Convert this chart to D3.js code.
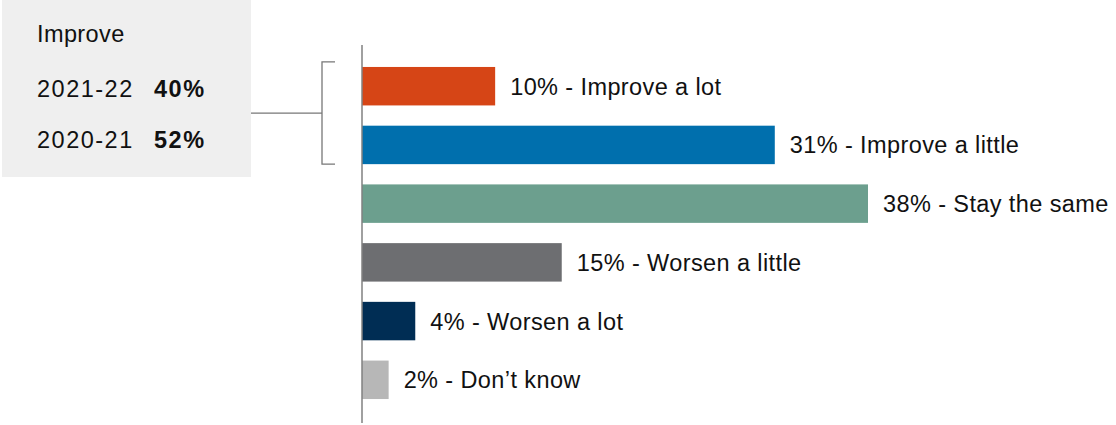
<!DOCTYPE html>
<html>
<head>
<meta charset="utf-8">
<script src="https://cdn.jsdelivr.net/npm/d3@7"></script>
<style>
  html, body { margin: 0; padding: 0; background: #fff; }
  svg { display: block; font-family: "Liberation Sans", Arial, sans-serif; }
</style>
</head>
<body>
<svg id="chart" width="1116" height="425"></svg>
<script>
// Survey responses: expected change
const categories = ["Improve a lot", "Improve a little", "Stay the same", "Worsen a little", "Worsen a lot", "Don\u2019t know"];
const values = [10, 31, 38, 15, 4, 2];
const colors = ["#d64516", "#006fad", "#6c9f8e", "#6d6e71", "#002d54", "#b7b7b7"];

// Summary panel: share expecting improvement
const summaryTitle = "Improve";
const summaryYears = ["2021-22", "2020-21"];
const summaryValues = [40, 52];

const svg = d3.select("#chart");
const fs = 23.5;

const x0 = 362;
const x = d3.scaleLinear().domain([0, 38]).range([x0, 868]);
const y = d3.scaleBand().domain(categories).range([47, 419]).paddingInner(0.345).paddingOuter(0.34);

// bars
svg.selectAll("rect.bar").data(categories).join("rect")
  .attr("class", "bar")
  .attr("x", x0)
  .attr("y", d => y(d))
  .attr("width", (d, i) => x(values[i]) - x0)
  .attr("height", y.bandwidth())
  .attr("fill", (d, i) => colors[i]);

// value labels
svg.selectAll("text.lbl").data(categories).join("text")
  .attr("class", "lbl")
  .attr("x", (d, i) => x(values[i]) + 15)
  .attr("y", d => y(d) + y.bandwidth() / 2)
  .attr("dy", "0.36em")
  .attr("font-size", fs)
  .attr("letter-spacing", 0.4)
  .attr("fill", "#111")
  .text((d, i) => `${values[i]}% - ${d}`);

// vertical axis line
svg.append("line")
  .attr("x1", x0).attr("x2", x0)
  .attr("y1", 45).attr("y2", 423)
  .attr("stroke", "#808080").attr("stroke-width", 1.5);

// summary panel
svg.append("rect")
  .attr("x", 2).attr("y", 0).attr("width", 249).attr("height", 177)
  .attr("fill", "#efefef");

svg.append("text")
  .attr("x", 37).attr("y", 42)
  .attr("font-size", fs).attr("fill", "#111")
  .attr("letter-spacing", 0.4)
  .text(summaryTitle);

summaryYears.forEach((yr, i) => {
  const by = 96.5 + i * 51.5;
  svg.append("text")
    .attr("x", 37).attr("y", by)
    .attr("font-size", fs).attr("fill", "#111")
    .attr("letter-spacing", 1.5)
    .text(yr);
  svg.append("text")
    .attr("x", 154).attr("y", by)
    .attr("font-size", fs).attr("font-weight", "bold").attr("fill", "#111")
    .attr("letter-spacing", 1.5)
    .text(summaryValues[i] + "%");
});

// bracket grouping the two "improve" bars
const bTop = y(categories[0]) - 5;
const bBot = y(categories[1]) + y.bandwidth();
const bx = 322;
const bracket = d3.path();
bracket.moveTo(bx + 13, bTop);
bracket.lineTo(bx, bTop);
bracket.lineTo(bx, bBot);
bracket.lineTo(bx + 13, bBot);
svg.append("path")
  .attr("d", bracket.toString())
  .attr("fill", "none").attr("stroke", "#777").attr("stroke-width", 1.3);

svg.append("line")
  .attr("x1", 251).attr("x2", bx)
  .attr("y1", (bTop + bBot) / 2).attr("y2", (bTop + bBot) / 2)
  .attr("stroke", "#777").attr("stroke-width", 1.3);
</script>
</body>
</html>
